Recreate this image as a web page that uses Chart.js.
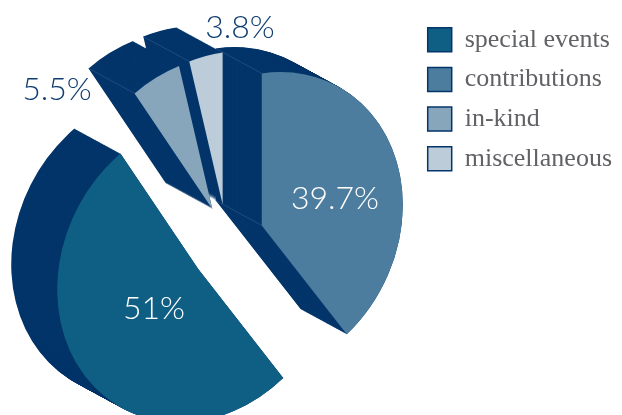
<!DOCTYPE html>
<html>
<head>
<meta charset="utf-8">
<title>Revenue sources</title>
<script src="https://cdn.jsdelivr.net/npm/chart.js"></script>
<style>
    html, body { margin: 0; padding: 0; background: #fff; }
    canvas { display: block; }
</style>
</head>
<body>
<canvas id="pieChart" width="622" height="415"></canvas>
<script>
// Slices run clockwise from the top
const categories = ["contributions", "special events", "in-kind", "miscellaneous"];
const shares = [39.7, 51, 5.5, 3.8];
const legendOrder = ["special events", "contributions", "in-kind", "miscellaneous"];

const sliceColors = ["#4d7d9e", "#0f5f85", "#87a6bc", "#bccdd9"];
// How far each slice is pulled out, as a fraction of the radius
const explode = [0.26, 0.25, 0.26, 0.26];

const sideColor = "#03356a";
const seamColor = "#2f5d8c";
const labelColors = ["#ffffff", "#ffffff", "#0f3d70", "#0f3d70"];
const labelPositions = [[335, 199], [154, 309], [57, 90], [240, 28]];

// Tilted pie: where the centre lands and how the unit circle is skewed
const pieCentre = { x: 227, y: 243 };
const tilt = { a: 141, b: -20.4, c: 0, d: 152 };
const depth = { x: -46, y: -25 };

// Maps a slice from chart space to its tilted, exploded spot on screen
function applyTilt(ctx, el, i, shiftX, shiftY) {
    const r = el.outerRadius;
    const mid = (el.startAngle + el.endAngle) / 2;
    ctx.translate(pieCentre.x + shiftX, pieCentre.y + shiftY);
    ctx.transform(tilt.a / r, tilt.b / r, tilt.c / r, tilt.d / r, 0, 0);
    ctx.translate(Math.cos(mid) * explode[i] * r - el.x, Math.sin(mid) * explode[i] * r - el.y);
}

// Screen position of a point on the slice (radius 0 gives the apex)
function slicePoint(el, i, angle, radius) {
    const mid = (el.startAngle + el.endAngle) / 2;
    const r = el.outerRadius;
    const px = Math.cos(mid) * explode[i] * r + Math.cos(angle) * radius;
    const py = Math.sin(mid) * explode[i] * r + Math.sin(angle) * radius;
    return {
        x: pieCentre.x + (tilt.a * px + tilt.c * py) / r,
        y: pieCentre.y + (tilt.b * px + tilt.d * py) / r
    };
}

function drawSeam(ctx, p) {
    ctx.beginPath();
    ctx.moveTo(p.x, p.y);
    ctx.lineTo(p.x + depth.x, p.y + depth.y);
    ctx.stroke();
}

const tiltedPie = {
    id: "tiltedPie",
    // Takes over the dataset draw so each slice gets its own transform
    beforeDatasetDraw(chart) {
        const ctx = chart.ctx;
        const arcs = chart.getDatasetMeta(0).data;

        // Side walls: sweep each slice back along the depth vector
        const steps = 60;
        arcs.forEach((el, i) => {
            for (let s = steps; s >= 0; s--) {
                ctx.save();
                applyTilt(ctx, el, i, depth.x * s / steps, depth.y * s / steps);
                ctx.beginPath();
                ctx.moveTo(el.x, el.y);
                ctx.arc(el.x, el.y, el.outerRadius, el.startAngle, el.endAngle);
                ctx.closePath();
                ctx.fillStyle = sideColor;
                ctx.fill();
                ctx.restore();
            }
        });

        // Faint seams along the wall corners
        ctx.save();
        ctx.strokeStyle = seamColor;
        ctx.lineWidth = 0.6;
        arcs.forEach((el, i) => {
            drawSeam(ctx, slicePoint(el, i, el.startAngle, el.outerRadius));
        });
        drawSeam(ctx, slicePoint(arcs[0], 0, arcs[0].startAngle, 0));
        ctx.restore();

        arcs.forEach((el, i) => {
            ctx.save();
            applyTilt(ctx, el, i, 0, 0);
            el.draw(ctx);
            ctx.restore();
        });
        return false;
    },
    afterDatasetsDraw(chart) {
        const ctx = chart.ctx;
        ctx.save();
        ctx.font = "300 32px Lato";
        ctx.textAlign = "center";
        ctx.textBaseline = "middle";
        shares.forEach((v, i) => {
            ctx.fillStyle = labelColors[i];
            ctx.fillText(v + "%", labelPositions[i][0], labelPositions[i][1]);
        });
        ctx.restore();
    }
};

new Chart(document.getElementById("pieChart"), {
    type: "pie",
    data: {
        labels: categories,
        datasets: [{
            data: shares,
            backgroundColor: sliceColors,
            borderWidth: 0
        }]
    },
    options: {
        responsive: false,
        animation: false,
        layout: { padding: { top: 13 } },
        plugins: {
            tooltip: { enabled: false },
            legend: {
                position: "right",
                align: "start",
                labels: {
                    boxWidth: 24,
                    boxHeight: 24,
                    padding: 13.7,
                    color: "#616265",
                    font: { family: "'Liberation Serif'", size: 26 },
                    sort: (a, b) => legendOrder.indexOf(a.text) - legendOrder.indexOf(b.text),
                    generateLabels(chart) {
                        const items = Chart.overrides.pie.plugins.legend.labels.generateLabels(chart);
                        items.forEach(item => {
                            item.strokeStyle = sideColor;
                            item.lineWidth = 1.5;
                        });
                        return items;
                    }
                }
            }
        }
    },
    plugins: [tiltedPie]
});
</script>
</body>
</html>
